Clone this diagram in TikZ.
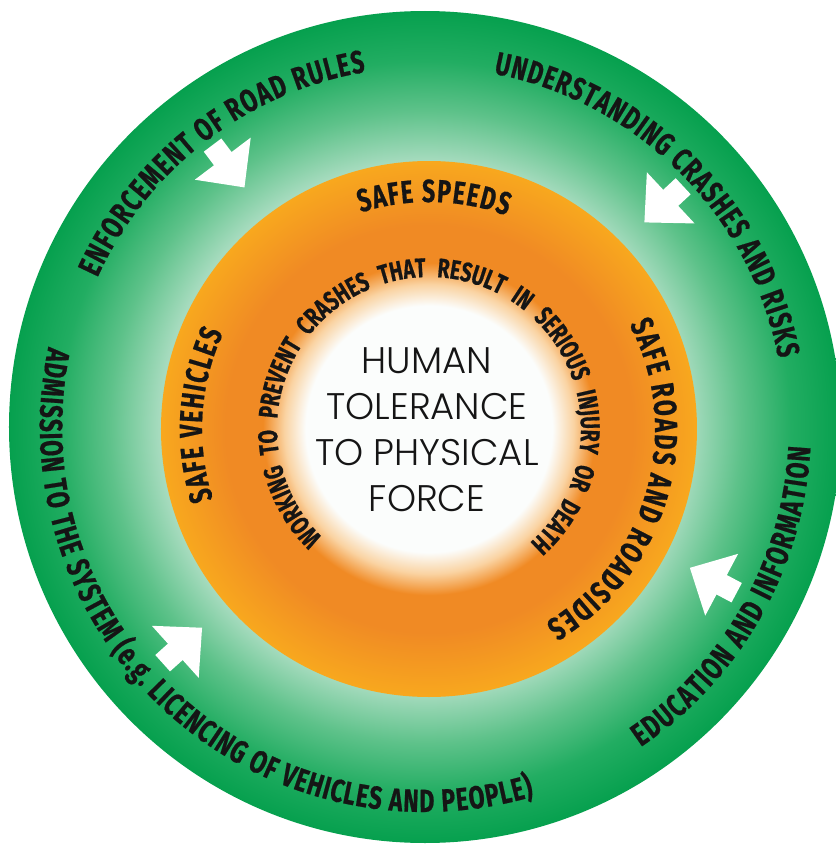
\documentclass[tikz,border=0pt]{standalone}
\usepackage{fontspec}
\usetikzlibrary{decorations.text}
\newfontfamily\ringfont[FakeStretch=0.72,FakeBold=0.6]{Fira Sans}
\newfontfamily\corefont{Poppins Light}
\newcommand{\outerlabelfont}{\ringfont\bfseries\fontsize{32}{36}\selectfont}
\newcommand{\midlabelfont}{\ringfont\bfseries\fontsize{32}{36}\selectfont}
\newcommand{\innerlabelfont}{\ringfont\bfseries\fontsize{27}{30}\selectfont}
\definecolor{ink}{HTML}{151515}
\definecolor{greendark}{HTML}{06A04E}
\definecolor{greenbright}{HTML}{22AD62}
\definecolor{greenmid}{HTML}{5EC28A}
\definecolor{mintpale}{HTML}{A6DBBE}
\definecolor{corewhite}{HTML}{FBFDFC}
\definecolor{orangesoft}{HTML}{FAD3A2}
\definecolor{orangedeep}{HTML}{F08A24}
\definecolor{orangelight}{HTML}{F8A81E}
\pgfdeclareradialshading{greenglow}{\pgfpointorigin}{color(0bp)=(mintpale); color(16bp)=(mintpale); color(19bp)=(greenmid); color(22bp)=(greenbright); color(25bp)=(greendark); color(50bp)=(greendark)}
\pgfdeclareradialshading{orangeglow}{\pgfpointorigin}{color(0bp)=(corewhite); color(11.5bp)=(corewhite); color(13.5bp)=(orangesoft); color(15.5bp)=(orangedeep); color(19bp)=(orangedeep); color(25bp)=(orangelight); color(50bp)=(orangelight)}
\begin{document}
\begin{tikzpicture}[line join = round, x = 1pt, y = 1pt,
	ringlabel/.style = {decorate, decoration = {text along path, text align = {fit to path}, text color = ink, text = {#1}}},
	spreadlabel/.style = {decorate, decoration = {text along path, text align = {fit to path stretching spaces}, text color = ink, text = {#1}}}]
	\useasboundingbox (-425,-420) rectangle (411,427);
	%Vòng ngoài màu xanh
	\shade[shading = greenglow] (0,0) circle[radius = 416];
	%Các mũi tên trắng
	\foreach \a in {127,43,222,-28} \fill[white, rotate = \a] (300,0) -- (336,35) -- (336,11) -- (353,11) -- (353,-11) -- (336,-11) -- (336,-35) -- cycle;
	%Chữ vòng ngoài
	\path[ringlabel = {|\outerlabelfont|ENFORCEMENT OF ROAD RULES}] (155.5:360) arc[start angle = 155.5, end angle = 99.5, radius = 360];
	\path[ringlabel = {|\outerlabelfont|UNDERSTANDING CRASHES AND RISKS}] (79:360) arc[start angle = 79, end angle = 11, radius = 360];
	\path[ringlabel = {|\outerlabelfont|ADMISSION TO THE SYSTEM (e.g. LICENCING OF VEHICLES AND PEOPLE)}] (168:385) arc[start angle = 168, end angle = 286.5, radius = 385];
	\path[ringlabel = {|\outerlabelfont|EDUCATION AND INFORMATION}] (-56:386) arc[start angle = -56, end angle = -3, radius = 386];
	%Vòng giữa màu cam
	\begin{scope}[shift = {(4,-2)}]
		\shade[shading = orangeglow] (0,0) circle[radius = 268];
		\path[ringlabel = {|\midlabelfont|SAFE SPEEDS}] (107.5:227) arc[start angle = 107.5, end angle = 70, radius = 227];
		\path[ringlabel = {|\midlabelfont|SAFE ROADS AND ROADSIDES}] (27.5:226) arc[start angle = 27.5, end angle = -59, radius = 226];
		\path[ringlabel = {|\midlabelfont|SAFE VEHICLES}] (198:227) arc[start angle = 198, end angle = 155, radius = 227];
		\path[spreadlabel = {|\innerlabelfont|WORKING TO PREVENT CRASHES THAT RESULT IN SERIOUS INJURY OR DEATH}] (225.5:152) arc[start angle = 225.5, end angle = -48.5, radius = 152];
	\end{scope}
	%Chữ ở tâm
	\node[inner sep = 0, align = center, text = ink, font = \corefont\fontsize{37}{46}\selectfont] (core) at (2,-3) {HUMAN\\TOLERANCE\\TO PHYSICAL\\FORCE};
\end{tikzpicture}
\end{document}
